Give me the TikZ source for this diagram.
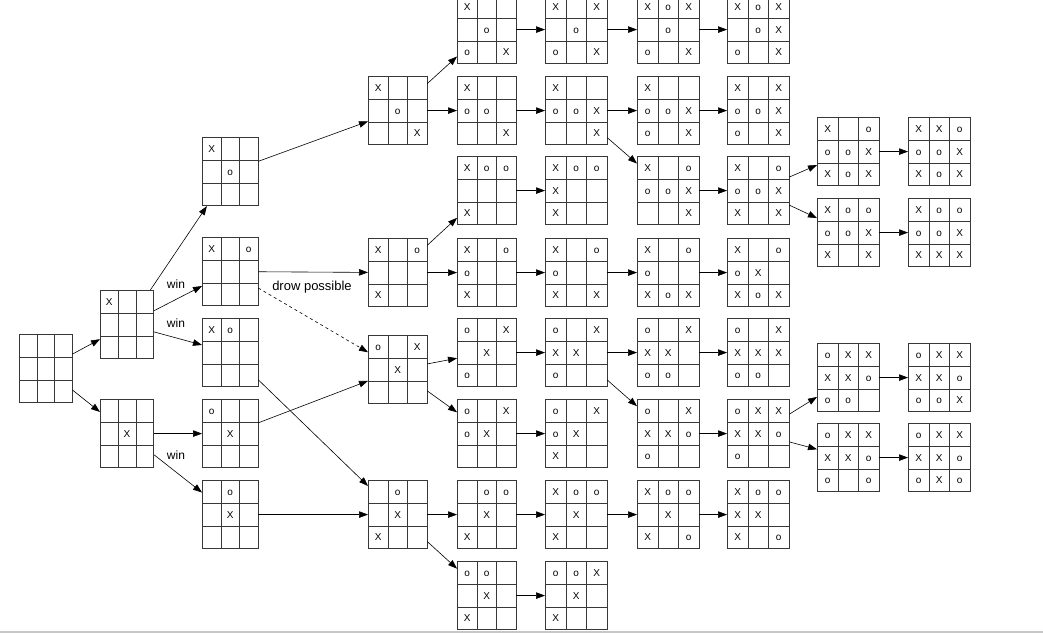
\documentclass[tikz,border=0pt]{standalone}
\usepackage{fontspec}
\setmainfont{Liberation Sans}
\usetikzlibrary{matrix,arrows.meta}
\tikzset{
  cell/.style={draw=black!78, line width=0.75pt, minimum height=22.8pt, inner sep=0pt,
    text height=7.2pt, text depth=0pt, anchor=center, font=\fontsize{10}{10}\selectfont},
  board/.style={matrix of nodes, nodes in empty cells, anchor=north west, inner sep=0pt,
    outer sep=0pt, column sep=-0.75pt, row sep=-0.75pt, nodes={cell, minimum width=#1}},
  edge/.style={-{Triangle[length=9pt,width=6.5pt]}, line width=0.6pt, black},
  lbl/.style={font=\fontsize{12}{13}\selectfont, inner sep=0pt},
}
\begin{document}
\begin{tikzpicture}[x=1pt,y=-1pt]
\clip (0,0) rectangle (1043,633);
\fill[white] (0,0) rectangle (1043,633);
\fill[black!22] (0,630.5) rectangle (1043,633);
% column 0,1
\matrix (root) [board=17.5pt, at={(19,334)}] { & & \\ & & \\ & & \\};
\matrix (B1) [board=17.8pt, at={(100,290)}] {X & & \\ & & \\ & & \\};
\matrix (B2) [board=17.8pt, at={(100,399)}] { & & \\ & X & \\ & & \\};
% column 2
\matrix (C1) [board=18.5pt, at={(202,137)}] {X & & \\ & o & \\ & & \\};
\matrix (C2) [board=18.5pt, at={(202,237)}] {X & & o \\ & & \\ & & \\};
\matrix (C3) [board=18.5pt, at={(202,318)}] {X & o & \\ & & \\ & & \\};
\matrix (C4) [board=18.5pt, at={(202,399)}] {o & & \\ & X & \\ & & \\};
\matrix (C5) [board=18.5pt, at={(202,480)}] { & o & \\ & X & \\ & & \\};
% column 3
\matrix (D1) [board=19.5pt, at={(368,76)}] {X & & \\ & o & \\ & & X \\};
\matrix (D2) [board=19.5pt, at={(368,238)}] {X & & o \\ & & \\ X & & \\};
\matrix (D3) [board=19.5pt, at={(368,335)}] {o & & X \\ & X & \\ & & \\};
\matrix (D4) [board=19.5pt, at={(368,480)}] { & o & \\ & X & \\ X & & \\};
% column 4
\matrix (E1) [board=19.5pt, at={(457,-5)}] {X & & \\ & o & \\ o & & X \\};
\matrix (E2) [board=19.5pt, at={(457,76)}] {X & & \\ o & o & \\ & & X \\};
\matrix (E3) [board=19.5pt, at={(457,156)}] {X & o & o \\ & & \\ X & & \\};
\matrix (E4) [board=19.5pt, at={(457,238)}] {X & & o \\ o & & \\ X & & \\};
\matrix (E5) [board=19.5pt, at={(457,318)}] {o & & X \\ & X & \\ o & & \\};
\matrix (E6) [board=19.5pt, at={(457,399)}] {o & & X \\ o & X & \\ & & \\};
\matrix (E7) [board=19.5pt, at={(457,480)}] { & o & o \\ & X & \\ X & & \\};
\matrix (E8) [board=19.5pt, at={(457,561)}] {o & o & \\ & X & \\ X & & \\};
% column 5
\matrix (F1) [board=20.5pt, at={(545,-5)}] {X & & X \\ & o & \\ o & & X \\};
\matrix (F2) [board=20.5pt, at={(545,76)}] {X & & \\ o & o & X \\ & & X \\};
\matrix (F3) [board=20.5pt, at={(545,156)}] {X & o & o \\ X & & \\ X & & \\};
\matrix (F4) [board=20.5pt, at={(545,238)}] {X & & o \\ o & & \\ X & & X \\};
\matrix (F5) [board=20.5pt, at={(545,318)}] {o & & X \\ X & X & \\ o & & \\};
\matrix (F6) [board=20.5pt, at={(545,399)}] {o & & X \\ o & X & \\ X & & \\};
\matrix (F7) [board=20.5pt, at={(545,480)}] {X & o & o \\ & X & \\ X & & \\};
\matrix (F8) [board=20.5pt, at={(545,561)}] {o & o & X \\ & X & \\ X & & \\};
% column 6
\matrix (G1) [board=20.5pt, at={(637,-5)}] {X & o & X \\ & o & \\ o & & X \\};
\matrix (G2) [board=20.5pt, at={(637,76)}] {X & & \\ o & o & X \\ o & & X \\};
\matrix (G3) [board=20.5pt, at={(637,156)}] {X & & o \\ o & o & X \\ & & X \\};
\matrix (G4) [board=20.5pt, at={(637,238)}] {X & & o \\ o & & \\ X & o & X \\};
\matrix (G5) [board=20.5pt, at={(637,318)}] {o & & X \\ X & X & \\ o & o & \\};
\matrix (G6) [board=20.5pt, at={(637,399)}] {o & & X \\ X & X & o \\ o & & \\};
\matrix (G7) [board=20.5pt, at={(637,480)}] {X & o & o \\ & X & \\ X & & o \\};
% column 7
\matrix (H1) [board=20.5pt, at={(727,-5)}] {X & o & X \\ & o & X \\ o & & X \\};
\matrix (H2) [board=20.5pt, at={(727,76)}] {X & & X \\ o & o & X \\ o & & X \\};
\matrix (H3) [board=20.5pt, at={(727,156)}] {X & & o \\ o & o & X \\ X & & X \\};
\matrix (H4) [board=20.5pt, at={(727,238)}] {X & & o \\ o & X & \\ X & o & X \\};
\matrix (H5) [board=20.5pt, at={(727,318)}] {o & & X \\ X & X & X \\ o & o & \\};
\matrix (H6) [board=20.5pt, at={(727,399)}] {o & X & X \\ X & X & o \\ o & & \\};
\matrix (H7) [board=20.5pt, at={(727,480)}] {X & o & o \\ X & X & \\ X & & o \\};
% column 8
\matrix (I1) [board=20.5pt, at={(817,117)}] {X & & o \\ o & o & X \\ X & o & X \\};
\matrix (I2) [board=20.5pt, at={(817,198)}] {X & o & o \\ o & o & X \\ X & & X \\};
\matrix (I3) [board=20.5pt, at={(817,343)}] {o & X & X \\ X & X & o \\ o & o & \\};
\matrix (I4) [board=20.5pt, at={(817,423)}] {o & X & X \\ X & X & o \\ o & & o \\};
% column 9
\matrix (J1) [board=20.5pt, at={(908,117)}] {X & X & o \\ o & o & X \\ X & o & X \\};
\matrix (J2) [board=20.5pt, at={(908,198)}] {X & o & o \\ o & o & X \\ X & X & X \\};
\matrix (J3) [board=20.5pt, at={(908,343)}] {o & X & X \\ X & X & o \\ o & o & X \\};
\matrix (J4) [board=20.5pt, at={(908,423)}] {o & X & X \\ X & X & o \\ o & X & o \\};
% labels
\node[lbl] (lw1) at (176,284) {win};
\node[lbl] (lw2) at (176,323) {win};
\node[lbl] (lw3) at (176,455) {win};
\node[lbl, font=\fontsize{13}{14}\selectfont] (ldp) at (312,287) {drow possible};
% edges
\draw[edge] (root) -- (B1);
\draw[edge] (root) -- (B2);
\draw[edge] (B1) -- (C1);
\draw[edge] (B1) -- (C2);
\draw[edge] (B1) -- (C3);
\draw[edge] (B2) -- (C4);
\draw[edge] (B2) -- (C5);
\draw[edge] (C1) -- (D1);
\draw[edge] (C2) -- (D2);
\draw[edge,dashed] (C2) -- (D3);
\draw[edge] (C3) -- (D4);
\draw[edge] (C4) -- (D3);
\draw[edge] (C5) -- (D4);
\draw[edge] (D1) -- (E1);
\draw[edge] (D1) -- (E2);
\draw[edge] (D2) -- (E3);
\draw[edge] (D2) -- (E4);
\draw[edge] (D3) -- (E5);
\draw[edge] (D3) -- (E6);
\draw[edge] (D4) -- (E7);
\draw[edge] (D4) -- (E8);
\foreach \n in {1,...,8}{\draw[edge] (E\n) -- (F\n);}
\draw[edge] (F1) -- (G1);
\draw[edge] (F2) -- (G2);
\draw[edge] (F2) -- (G3);
\draw[edge] (F4) -- (G4);
\draw[edge] (F5) -- (G5);
\draw[edge] (F5) -- (G6);
\draw[edge] (F7) -- (G7);
\foreach \n in {1,...,7}{\draw[edge] (G\n) -- (H\n);}
\draw[edge] (H3) -- (I1);
\draw[edge] (H3) -- (I2);
\draw[edge] (H6) -- (I3);
\draw[edge] (H6) -- (I4);
\foreach \n in {1,...,4}{\draw[edge] (I\n) -- (J\n);}
\end{tikzpicture}
\end{document}
